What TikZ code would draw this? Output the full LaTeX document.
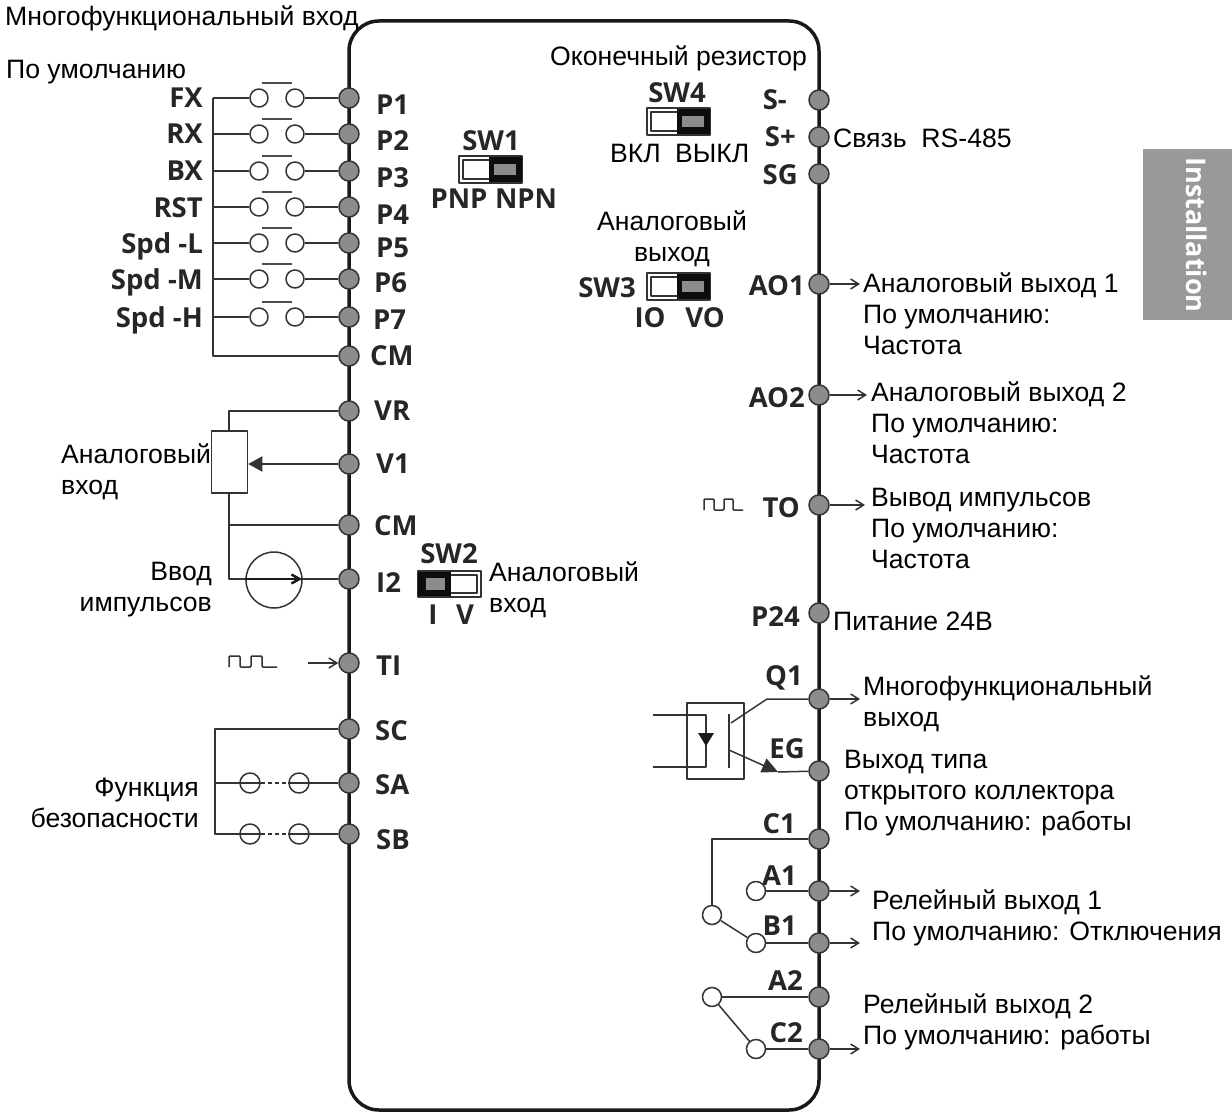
\documentclass[tikz,border=0pt]{standalone}
\usepackage{fontspec}
\setmainfont{Liberation Sans}
\newfontfamily\termfont{Open Sans}
\usetikzlibrary{arrows.meta}

\tikzset{
    term/.style={circle, draw=black!80, fill=black!45, line width=1.5, minimum size=20, inner sep=0},
    contact/.style={circle, draw=black!80, line width=1.5, minimum size=18, inner sep=0},
    relaycontact/.style={contact, fill=white, minimum size=19},
    safecontact/.style={contact, minimum size=20},
    termlbl/.style={font=\termfont\bfseries\fontsize{27.5}{27.5}\selectfont, inner sep=0, text=black!85, text height=20, text depth=0},
    swlbl/.style={termlbl},
    rutext/.style={font=\fontsize{26.6}{31}\selectfont, inner sep=0, align=left, yshift=-1pt},
    wire/.style={line width=1.5, draw=black!80}
}

\begin{document}
\begin{tikzpicture}[x=1pt, y=-1pt, line join = round, >=Stealth]
    \useasboundingbox (0,0) rectangle (1232,1113);

    % side tab
    \fill[black!40] (1143,149) rectangle (1232,320);
    \node[rotate=-90, text=white, inner sep=0, font=\termfont\bfseries\fontsize{27}{27}\selectfont] (tabtext) at (1197,235) {Installation};

    % housing
    \draw[line width=3.5, rounded corners=30, black!90] (349,21) rectangle (819,1110);

    % left terminals
    \foreach \t/\y/\lx/\ly/\txt in {P1/98/376/105/P1, P2/134/376/140/P2, P3/171/376/178/P3, P4/207/376/214/P4, P5/243/376/247/P5, P6/279/374/282/P6, P7/317/373/319/P7, CMa/356/370/355/CM, VR/411/374/410/VR, Va/464/376/463/V1, CMb/525/374/525/CM, Ib/579/376/582/I2, TI/663/376/665/TI, SC/729/375/730/SC, SA/783/375/784/SA, SB/834/376/839/SB}{
        \node[term] (\t) at (349,\y) {};
        \node[termlbl, anchor=west] (\t lbl) at (\lx,\ly) {\txt};
    }

    % right terminals
    \foreach \t/\y/\lx/\ly/\txt in {Sm/100/787/100/S-, Sp/137/796/137/S+, SG/174/798/174/SG, AOa/284/805/285/AO1, AOb/395/805/397/AO2, TO/505/800/507/TO, Ptf/613/800/616/P24, Qa/699/803/675/Q1, EG/771/805/748/EG, Ca/839/796/823/C1, Aa/891/797/875/A1, Ba/943/797/925/B1, Ab/997/803/980/A2, Cb/1049/803/1032/C2}{
        \node[term] (\t) at (819,\y) {};
        \node[termlbl, anchor=east] (\t lbl) at (\lx,\ly) {\txt};
    }

    % multi-function inputs
    \coordinate (bustop) at (213,98);
    \coordinate (busbot) at (213,356);
    \foreach \t/\y/\name in {P1/98/FX, P2/134/RX, P3/171/BX, P4/207/RST, P5/243/Spd -L, P6/279/Spd -M, P7/317/Spd -H}{
        \coordinate (bus\t) at (213,\y);
        \node[contact] (\t a) at (259,\y) {};
        \node[contact] (\t b) at (295,\y) {};
        \node[termlbl, anchor=east] (\t name) at (203,\y) {\name};
        \draw[wire] (bus\t) -- (\t a);
        \draw[wire] (\t b) -- (\t);
        \draw[line width=1.2, black!70] (262,\y-15) -- (292,\y-15);
    }
    \draw[wire] (bustop) -- (busbot) -- (CMa);

    % potentiometer and current source
    \node[draw=black!80, line width=1.5, minimum width=36, minimum height=62, inner sep=0] (pot) at (229.5,462) {};
    \coordinate (potbus) at (229,411);
    \coordinate (cmbus) at (229,525);
    \coordinate (ibus) at (229,579);
    \node[circle, draw=black!80, line width=1.5, minimum size=56, inner sep=0] (isrc) at (274,580) {};
    \coordinate (isrctip) at (302,579);
    \draw[wire] (VR) -- (potbus) -- (pot.north -| potbus);
    \draw[wire] (pot.south -| potbus) -- (cmbus) -- (ibus) -- (isrc.west |- ibus);
    \draw[wire] (cmbus) -- (CMb);
    \draw[wire] (isrctip) -- (Ib);
    \draw[line width=2.5, black!90, -{Straight Barb[length=8,width=9]}] (isrc.west |- ibus) -- (isrctip);
    \draw[wire, -{Triangle[length=14,width=15]}] (Va) -- (pot.east |- Va);

    % pulses
    \coordinate (tifrom) at (308,663);
    \draw[wire, -{Straight Barb[length=8,width=10]}] (tifrom) -- (TI);
    \draw[line width=1.5, black!80, rounded corners=1] (229,667) -- (229,656) -- (240,656) -- (240,667) -- (251,667) -- (251,656) -- (262,656) -- (262,667) -- (277,667);
    \draw[line width=1.5, black!80, rounded corners=1] (704,510) -- (704,499) -- (714,499) -- (714,510) -- (724,510) -- (724,499) -- (733,499) -- (733,510) -- (743,510);

    % safety inputs
    \coordinate (safetop) at (215,729);
    \coordinate (safebot) at (215,834);
    \coordinate (safemid) at (215,783);
    \foreach \t/\y in {SA/783, SB/834}{
        \node[safecontact] (\t a) at (250,\y) {};
        \node[safecontact] (\t b) at (299,\y) {};
        \draw[wire, dashed, dash pattern=on 4 off 3] (\t a.east) -- (\t b.west);
        \draw[wire] (\t b.west) -- (\t);
    }
    \draw[wire] (SC) -- (safetop) -- (safebot) -- (SBa.east);
    \draw[wire] (safemid) -- (SAa.east);

    % switches
    \foreach \s/\i/\j in {SWa/459/156, SWd/647/108, SWc/647/273}{
        \draw[line width=1.5, black!80] (\i,\j) rectangle ++(63,27);
        \draw[line width=1.5, black!80] (\i+4,\j+4) rectangle ++(30,19);
        \fill[black!95] (\i+30,\j+1) rectangle ++(33,25);
        \fill[black!45] (\i+35,\j+8) rectangle ++(22,11);
    }
    \draw[line width=1.5, black!80] (418,571) rectangle (481,597);
    \draw[line width=1.5, black!80] (448,575) rectangle (477,593);
    \fill[black!95] (418,572) rectangle (451,596);
    \fill[black!45] (426,578) rectangle (445,590);

    \node[swlbl] (sw1) at (491,140) {SW1};
    \node[swlbl] (pnp) at (459,198) {PNP};
    \node[swlbl] (npn) at (526,198) {NPN};
    \node[swlbl] (sw2) at (449,553) {SW2};
    \node[swlbl] (swi) at (433,614) {I};
    \node[swlbl] (swv) at (465,614) {V};
    \node[swlbl] (sw3) at (607,287) {SW3};
    \node[swlbl] (io) at (650,317) {IO};
    \node[swlbl] (vo) at (705,317) {VO};
    \node[swlbl] (sw4) at (677,93) {SW4};

    % optocoupler
    \node[draw=black!80, line width=1.5, minimum width=57, minimum height=76, inner sep=0] (opto) at (715.5,741) {};
    \coordinate (ledin) at (653,715);
    \coordinate (ledout) at (653,767);
    \coordinate (ledtop) at (706,715);
    \coordinate (ledbot) at (706,767);
    \coordinate (barA) at (729,714);
    \coordinate (barB) at (729,768);
    \coordinate (colA) at (731,723);
    \coordinate (colB) at (767,699);
    \coordinate (emA) at (729,750);
    \coordinate (emB) at (778,772);
    \draw[wire] (ledin) -- (ledtop) -- (ledbot) -- (ledout);
    \fill[black!90] (698,733) -- (714,733) -- (706,746) -- cycle;
    \draw[wire] (barA) -- (barB);
    \draw[wire] (colA) -- (colB) -- (Qa);
    \draw[wire, -{Triangle[length=16,width=15]}] (emA) -- (emB);
    \draw[wire] (emB) -- (EG);

    % relays
    \node[relaycontact] (Caa) at (712,915) {};
    \node[relaycontact] (Aaa) at (756,891) {};
    \node[relaycontact] (Baa) at (756,943) {};
    \node[relaycontact] (Aba) at (712,997) {};
    \node[relaycontact] (Cba) at (756,1049) {};
    \coordinate (cbend) at (712,839);
    \draw[wire] (Ca) -- (cbend) -- (Caa);
    \draw[wire] (Aaa) -- (Aa);
    \draw[wire] (Baa) -- (Ba);
    \draw[wire] (Caa) -- (Baa);
    \draw[wire] (Aba) -- (Ab);
    \draw[wire] (Aba) -- (Cba);
    \draw[wire] (Cba) -- (Cb);

    % outputs
    \foreach \t/\x/\y in {AOa/860/284, AOb/867/395, TO/865/505, Qa/860/699, Aa/860/891, Ba/860/943, Cb/860/1049}{
        \coordinate (\t out) at (\x,\y);
        \draw[wire, -{Straight Barb[length=8,width=10]}] (\t) -- (\t out);
    }

    % captions
    \node[rutext, anchor=west] (tmulti) at (5,17) {Многофункциональный вход};
    \node[rutext, anchor=west] (tdefault) at (6,71) {По умолчанию};
    \node[rutext, anchor=west] (tterm) at (550,57) {Оконечный резистор};
    \node[rutext, anchor=west] (ton) at (610,152) {ВКЛ};
    \node[rutext, anchor=west] (toff) at (675,152) {ВЫКЛ};
    \node[rutext, anchor=west] (tcomm) at (833,137) {Связь\ \ RS-485};
    \node[rutext, align=center] (taout) at (672,238) {Аналоговый\\выход};
    \node[rutext, anchor=west] (tao1) at (863,313) {Аналоговый выход 1\\По умолчанию:\\Частота};
    \node[rutext, anchor=west] (tao2) at (871,422) {Аналоговый выход 2\\По умолчанию:\\Частота};
    \node[rutext, anchor=west] (tto) at (871,527) {Вывод импульсов\\По умолчанию:\\Частота};
    \node[rutext, anchor=west] (tp24) at (833,620) {Питание 24В};
    \node[rutext, anchor=west] (tq1) at (863,703) {Многофункциональный\\выход};
    \node[rutext, anchor=west] (teg) at (844,792) {Выход типа\\открытого коллектора\\По умолчанию: работы};
    \node[rutext, anchor=west] (trel1) at (872,917) {Релейный выход 1\\По умолчанию: Отключения};
    \node[rutext, anchor=west] (trel2) at (863,1021) {Релейный выход 2\\По умолчанию: работы};
    \node[rutext, anchor=west] (tain) at (61,471) {Аналоговый\\вход};
    \node[rutext, anchor=east, align=right] (tpulse) at (212,589) {Ввод\\импульсов};
    \node[rutext, anchor=west] (tsw2) at (489,589) {Аналоговый\\вход};
    \node[rutext, anchor=east, align=right] (tsafe) at (199,802) {Функция\\безопасности};
\end{tikzpicture}
\end{document}
